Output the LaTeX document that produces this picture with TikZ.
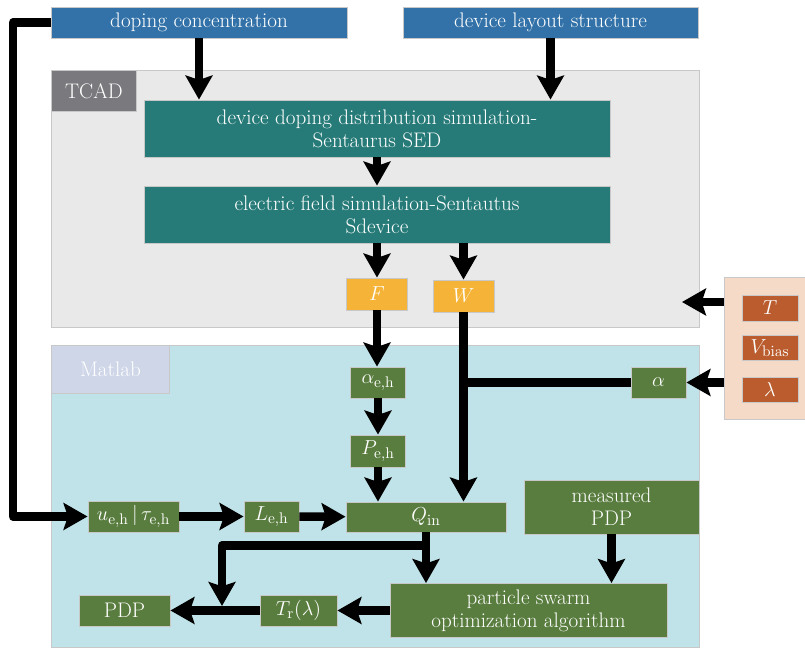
\documentclass[tikz,border=0pt]{standalone}
\usepackage{amsmath}
\usetikzlibrary{arrows.meta}

\definecolor{inblue}{RGB}{50,114,168}
\definecolor{simteal}{RGB}{38,123,120}
\definecolor{outorange}{RGB}{245,180,55}
\definecolor{matgreen}{RGB}{89,125,63}
\definecolor{parrust}{RGB}{186,92,45}
\definecolor{parpeach}{RGB}{246,218,200}
\definecolor{tcadbg}{RGB}{233,233,233}
\definecolor{tcadgray}{RGB}{122,122,126}
\definecolor{matbg}{RGB}{191,227,232}
\definecolor{matlav}{RGB}{206,214,232}
\definecolor{boxline}{RGB}{200,200,200}

\begin{document}
\begin{tikzpicture}[x=0.025cm,y=-0.025cm,
    box/.style={rectangle, draw=boxline, line width=0.6pt, text=white, inner sep=1pt,
      align=center, font=\fontsize{15}{16.5}\selectfont},
    panel/.style={rectangle, draw=boxline, line width=0.8pt, anchor=north west, inner sep=0pt},
    arr/.style={-{Stealth[length=17pt,width=19pt,inset=3pt]}, line width=6pt, line join=round},
    bar/.style={line width=6pt}]
  \useasboundingbox (0,0) rectangle (805,648);

  % panels
  \node[panel, fill=tcadbg, minimum width=16.2cm, minimum height=6.425cm] (tcad) at (51,70) {};
  \node[panel, fill=matbg, minimum width=16.2cm, minimum height=7.55cm] (mat) at (51,345) {};
  \node[panel, fill=parpeach, minimum width=2.1cm, minimum height=3.55cm] (ext) at (724,277) {};
  \node[box, anchor=north west, fill=tcadgray, minimum width=2.125cm, minimum height=1.025cm] (tcadlab) at (51,70) {TCAD};
  \node[box, anchor=north west, fill=matlav, minimum width=2.95cm, minimum height=1.2cm] (matlab) at (51,345) {Matlab};

  % inputs
  \node[box, fill=inblue, minimum width=7.4cm, minimum height=0.775cm] (dop) at (199,22.5) {doping concentration};
  \node[box, fill=inblue, minimum width=7.375cm, minimum height=0.775cm] (lay) at (550.5,22.5) {device layout structure};

  % TCAD
  \node[box, fill=simteal, minimum width=11.65cm, minimum height=1.425cm] (sim1) at (377,128.5) {device doping distribution simulation-\\Sentaurus SED};
  \node[box, fill=simteal, minimum width=11.65cm, minimum height=1.425cm] (sim2) at (377,214.5) {electric field simulation-Sentautus\\Sdevice};
  \node[box, fill=outorange, minimum width=1.525cm, minimum height=0.8cm] (F) at (377,294) {$F$};
  \node[box, fill=outorange, minimum width=1.525cm, minimum height=0.8cm] (W) at (463.5,296) {$W$};

  % parameters
  \node[box, fill=parrust, minimum width=1.4cm, minimum height=0.65cm] (T) at (770,308) {$T$};
  \node[box, fill=parrust, minimum width=1.4cm, minimum height=0.625cm] (Vb) at (770,348) {$V_{\mathrm{bias}}$};
  \node[box, fill=parrust, minimum width=1.4cm, minimum height=0.625cm] (lam) at (770,389.5) {$\lambda$};

  % Matlab
  \node[box, fill=matgreen, minimum width=1.375cm, minimum height=0.775cm] (aeh) at (378,382.5) {$\alpha_{\mathrm{e,h}}$};
  \node[box, fill=matgreen, minimum width=1.375cm, minimum height=0.775cm] (al) at (658.5,382.5) {$\alpha$};
  \node[box, fill=matgreen, minimum width=1.375cm, minimum height=0.8cm] (Peh) at (378,451) {$P_{\mathrm{e,h}}$};
  \node[box, fill=matgreen, minimum width=2.275cm, minimum height=0.775cm] (ut) at (133.5,516.5) {$u_{\mathrm{e,h}}\,|\,\tau_{\mathrm{e,h}}$};
  \node[box, fill=matgreen, minimum width=1.375cm, minimum height=0.775cm] (L) at (271.5,516.5) {$L_{\mathrm{e,h}}$};
  \node[box, fill=matgreen, minimum width=4cm, minimum height=0.75cm] (Q) at (426,517) {$Q_{\mathrm{in}}$};
  \node[box, fill=matgreen, minimum width=4.375cm, minimum height=1.35cm] (meas) at (611.5,507) {measured\\PDP};
  \node[box, fill=matgreen, minimum width=6.925cm, minimum height=1.35cm] (pso) at (528.5,610.5) {particle swarm\\optimization algorithm};
  \node[box, fill=matgreen, minimum width=1.925cm, minimum height=0.775cm] (Tr) at (298.5,610.5) {$T_{\mathrm{r}}(\lambda)$};
  \node[box, fill=matgreen, minimum width=2.275cm, minimum height=0.775cm] (PDP) at (124.5,610.5) {PDP};

  \coordinate (lft) at (13,22.5);
  \coordinate (tin) at (682,302);
  \coordinate (jn) at (222,606);

  % connectors
  \foreach \from/\to in {dop/sim1, lay/sim1, F/aeh, W/Q, Peh/Q, Q/pso, meas/pso}
    \draw[arr] (\from.south) -- (\from.south |- \to.north);
  \foreach \from/\to in {sim1/sim2, sim2/F, aeh/Peh, ut/L, L/Q, pso/Tr, Tr/PDP}
    \draw[arr] (\from) -- (\to);
  \draw[arr] (sim2.south -| W) -- (W.north);
  \draw[bar] (al) -- (al -| W);
  \draw[arr] (ext.west |- al) -- (al);
  \draw[arr] (ext.west |- tin) -- (tin);
  \draw[arr] (dop.west) -- (lft) |- (ut.west);
  \draw[arr] (Q.south) -- ++(0,13) -| (jn);
\end{tikzpicture}
\end{document}
